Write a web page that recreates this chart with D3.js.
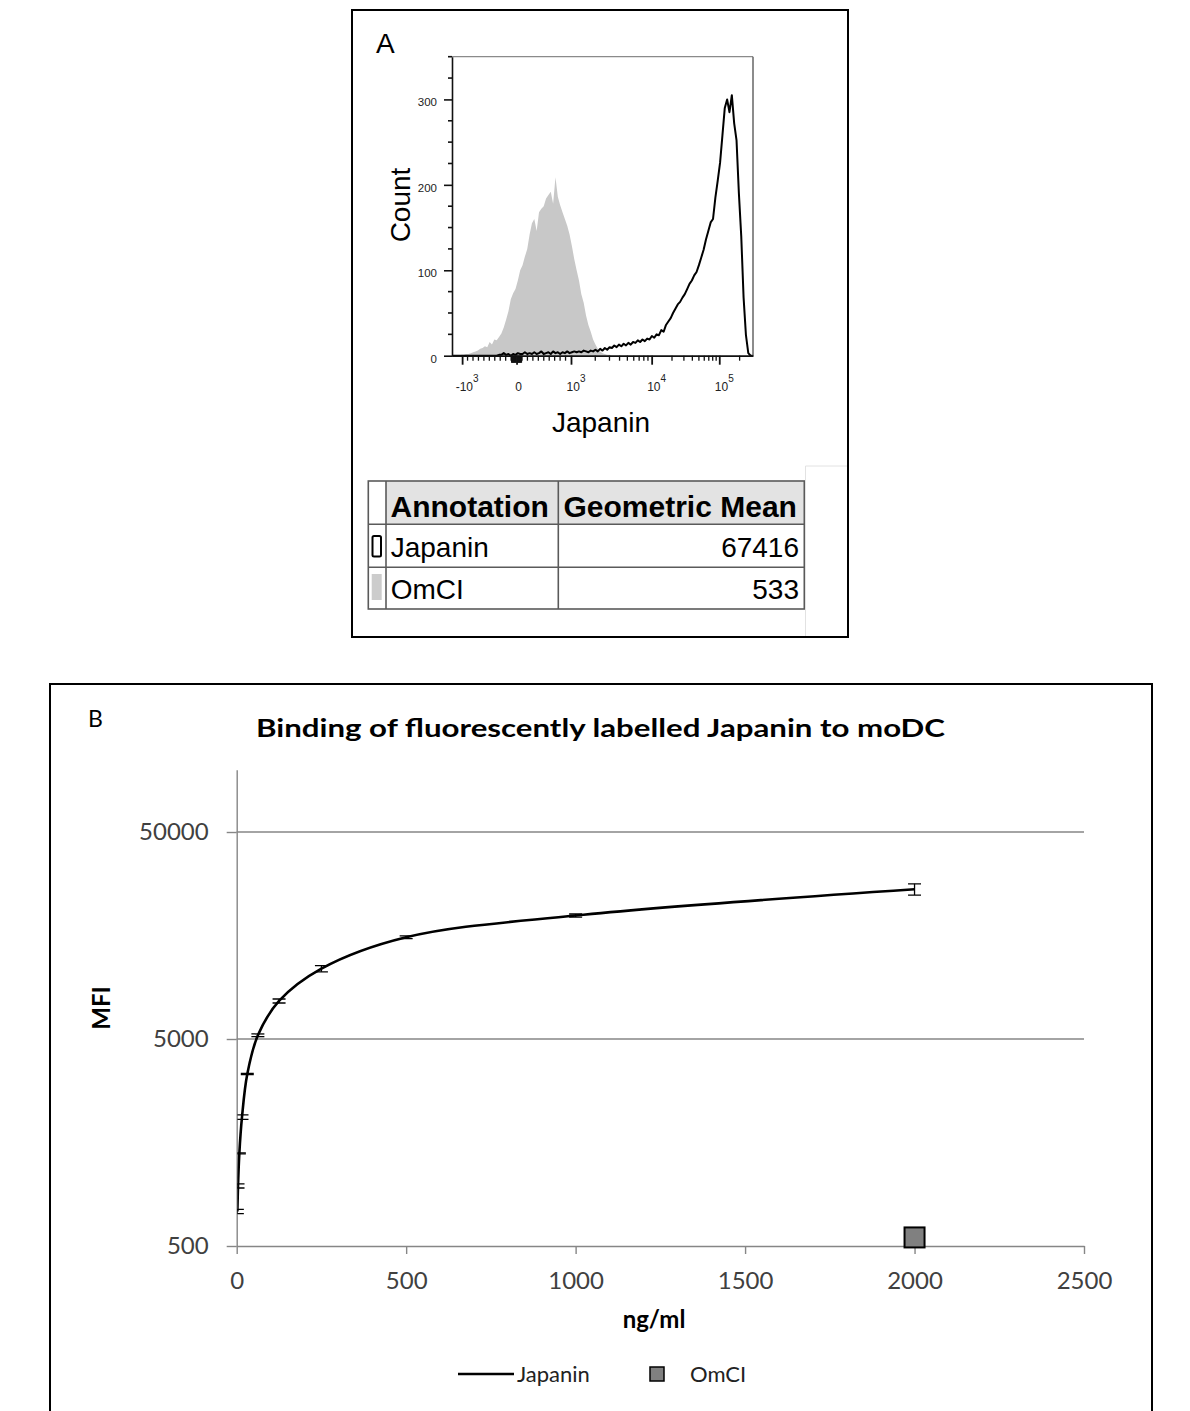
<!DOCTYPE html>
<html><head><meta charset="utf-8">
<script src="https://cdn.jsdelivr.net/npm/d3@7"></script>
<style>body{margin:0;background:#fff} svg{display:block}</style>
</head><body>
<svg id="c" width="1190" height="1411"></svg>
<script>
// ===== Panel A data (flow histogram, counts per display channel, 0..256 step 2) =====
const histChannels = d3.range(0, 257, 2);
const japaninCounts = [
 0,0,0,0,0,0,0,0,0,0,0,0,0,0,0,0,0,0,0,0,1,
 1,3,1,2,0,2,1,3,2,2,4,2,3,2,4,2,3,5,2,3,4,2,5,3,4,2,4,3,5,3,4,5,4,5,4,6,5,4,6,5,7,5,8,6,9,7,10,9,12,10,13,11,14,12,15,13,16,15,18,16,19,17,20,19,23,21,25,24,30,28,36,40,44,50,55,60,63,68,72,78,84,88,94,98,106,115,124,136,146,156,160,185,205,226,258,290,300,285,305,272,252,190,140,68,24,3,0,0
];
const omciCounts = [
 0,0,0,0,1,1,2,2,3,4,5,6,8,9,11,10,16,13,19,18,22,26,33,42,52,66,73,78,88,100,106,116,125,142,155,160,146,168,172,175,184,188,192,178,209,186,176,168,160,152,142,128,113,100,88,72,62,47,36,28,19,13,8,5,3,2,1,1,0,
 0,0,0,0,0,0,0,0,0,0,0,0,0,0,0,0,0,0,0,0,0,0,0,0,0,0,0,0,0,0,0,0,0,0,0,0,0,0,0,0,0,0,0,0,0,0,0,0,0,0,0,0,0,0,0,0,0,0,0,0
];
const countTicks = [0, 100, 200, 300];
const countMinorTicks = [25,50,75,125,150,175,225,250,275,325,350];
const fluorMajor = [-1000, 0, 1000, 10000, 100000];
const fluorMajorBase = ["-10", "0", "10", "10", "10"];
const fluorMajorExp = ["3", "", "3", "4", "5"];
const fluorMinor = [-900,-800,-700,-600,-500,-400,-300,-200,-100,
  -90,-80,-70,-60,-50,-40,-30,-20,-10,10,20,30,40,50,60,70,80,90,
  100,200,300,400,500,600,700,800,900,
  2000,3000,4000,5000,6000,7000,8000,9000,
  20000,30000,40000,50000,60000,70000,80000,90000,200000];
const tableHeader = ["Annotation", "Geometric Mean"];
const tableNames = ["Japanin", "OmCI"];
const tableMeans = ["67416", "533"];

// ===== Panel B data =====
const conc = [1.95, 3.9, 7.8, 15.6, 31.25, 62.5, 125, 250, 500, 1000, 2000];
const japaninMFI = [734, 975, 1402, 2096, 3388, 5211, 7632, 10930, 15500, 19750, 26450];
const japaninErr = [18, 22, 8, 52, 20, 78, 170, 370, 230, 340, 1650];
const omciConc = [2000];
const omciMFI = [550];
const xTicksB = [0, 500, 1000, 1500, 2000, 2500];
const yTicksB = [500, 5000, 50000];

const svg = d3.select("#c");
const ARIAL = "'Liberation Sans', Arial, sans-serif";
const CAL = "Lato, 'Open Sans', sans-serif";

// ---------- Panel A ----------
svg.append("rect").attr("x",352).attr("y",10).attr("width",496).attr("height",627)
  .attr("fill","none").attr("stroke","#000").attr("stroke-width",2);
svg.append("text").attr("x",376).attr("y",53).attr("font-family",ARIAL).attr("font-size",28).text("A");

const xA = d3.scaleLinear().domain([0,256]).range([452,753]);
const yA = d3.scaleLinear().domain([0,350]).range([355.7,56.7]);
// biexponential display transform: fluorescence -> channel
function biex(v){
  if (v <= 1000) return 54.9 + 46.3 * v / 1000;
  if (v <= 10000) return 101.2 + 68.6 * Math.log10(v / 1000);
  return 169.8 + 57.5 * Math.log10(v / 10000);
}

const gA = svg.append("g");
gA.append("path").datum(omciCounts)
  .attr("d", d3.area().x((d,i)=>xA(histChannels[i])).y0(yA(0)).y1(d=>yA(d)))
  .attr("fill","#c8c8c8");
gA.append("path").datum(japaninCounts)
  .attr("d", d3.line().x((d,i)=>xA(histChannels[i])).y(d=>yA(d)))
  .attr("fill","none").attr("stroke","#000").attr("stroke-width",2).attr("stroke-linejoin","round");

// frame top/right
gA.append("line").attr("x1",452).attr("x2",753).attr("y1",yA(350)).attr("y2",yA(350)).attr("stroke","#8a8a8a").attr("stroke-width",1.2);
gA.append("line").attr("x1",753).attr("x2",753).attr("y1",yA(350)).attr("y2",yA(0)).attr("stroke","#666").attr("stroke-width",1.5);

// y axis
const yAxA = gA.append("g").attr("transform","translate(452,0)")
  .call(d3.axisLeft(yA).tickValues(countTicks).tickSize(8).tickSizeOuter(0).tickPadding(7));
yAxA.selectAll("text").attr("font-family",ARIAL).attr("font-size",11.5).attr("fill","#222").attr("dy","0.55em");
yAxA.append("g").selectAll("line").data(countMinorTicks).join("line")
  .attr("x1",-4).attr("x2",0).attr("y1",d=>yA(d)).attr("y2",d=>yA(d)).attr("stroke","#222").attr("stroke-width",1.2);
yAxA.selectAll("path,line").attr("stroke","#111").attr("stroke-width",1.6);

// x axis
const xAxA = gA.append("g").attr("transform",`translate(0,${yA(0)})`)
  .call(d3.axisBottom(xA).tickValues(fluorMajor.map(biex)).tickSize(9).tickSizeOuter(0).tickFormat(()=>""));
xAxA.selectAll("path,line").attr("stroke","#111").attr("stroke-width",1.8);
xAxA.append("g").selectAll("line").data(fluorMinor).join("line")
  .attr("x1",d=>xA(biex(d))).attr("x2",d=>xA(biex(d))).attr("y1",0).attr("y2",d=>Math.abs(d)<100?7:5)
  .attr("stroke","#111").attr("stroke-width",1.3);
fluorMajor.forEach((v,i)=>{
  const t = xAxA.append("text").attr("x", xA(biex(v)) + (fluorMajorExp[i] ? 5 : 2)).attr("y", 35)
    .attr("text-anchor","middle").attr("font-family",ARIAL).attr("font-size",12).attr("fill","#222");
  t.append("tspan").text(fluorMajorBase[i]);
  if (fluorMajorExp[i]) t.append("tspan").attr("font-size",10).attr("dy",-9).text(fluorMajorExp[i]);
});

svg.append("text").attr("transform","translate(410,205) rotate(-90)").attr("text-anchor","middle")
  .attr("font-family",ARIAL).attr("font-size",28).text("Count");
svg.append("text").attr("x",601).attr("y",432).attr("text-anchor","middle")
  .attr("font-family",ARIAL).attr("font-size",28).text("Japanin");

// table
const tb = svg.append("g");
const colX = [368.3, 386, 558.3, 804.3];
const rowY = [481, 524.3, 567.3, 609];
tb.append("rect").attr("x",colX[1]).attr("y",rowY[0]).attr("width",colX[3]-colX[1]).attr("height",rowY[1]-rowY[0]).attr("fill","#e3e3e3");
tb.append("rect").attr("x",colX[0]).attr("y",rowY[0]).attr("width",colX[3]-colX[0]).attr("height",rowY[3]-rowY[0])
  .attr("fill","none").attr("stroke","#5a5a5a").attr("stroke-width",1.6);
[colX[1],colX[2]].forEach(x=>tb.append("line").attr("x1",x).attr("x2",x).attr("y1",rowY[0]).attr("y2",rowY[3]).attr("stroke","#5a5a5a").attr("stroke-width",1.6));
[rowY[1],rowY[2]].forEach(y=>tb.append("line").attr("x1",colX[0]).attr("x2",colX[3]).attr("y1",y).attr("y2",y).attr("stroke","#5a5a5a").attr("stroke-width",1.6));
tb.append("text").attr("x",390.5).attr("y",516.5).attr("font-family",ARIAL).attr("font-weight","bold").attr("font-size",30).text(tableHeader[0]);
tb.append("text").attr("x",563.5).attr("y",516.5).attr("font-family",ARIAL).attr("font-weight","bold").attr("font-size",30).text(tableHeader[1]);
tableNames.forEach((n,i)=>{
  const by = [556.5, 598.5][i];
  tb.append("text").attr("x",390.7).attr("y",by).attr("font-family",ARIAL).attr("font-size",28).text(n);
  tb.append("text").attr("x",799).attr("y",by).attr("text-anchor","end").attr("font-family",ARIAL).attr("font-size",28).text(tableMeans[i]);
});
tb.append("rect").attr("x",372.5).attr("y",536).attr("width",8.5).attr("height",20.5).attr("rx",1.5)
  .attr("fill","#fff").attr("stroke","#000").attr("stroke-width",2);
tb.append("rect").attr("x",371.7).attr("y",574).attr("width",10).attr("height",26).attr("fill","#cccccc");
svg.append("line").attr("x1",805.5).attr("x2",805.5).attr("y1",466).attr("y2",636).attr("stroke","#e2e2e2").attr("stroke-width",1);
svg.append("line").attr("x1",805.5).attr("x2",847).attr("y1",466).attr("y2",466).attr("stroke","#e2e2e2").attr("stroke-width",1);

// ---------- Panel B ----------
svg.append("rect").attr("x",50).attr("y",684).attr("width",1102).attr("height",800)
  .attr("fill","none").attr("stroke","#000").attr("stroke-width",2);
svg.append("text").attr("x",88).attr("y",727).attr("font-family",CAL).attr("font-size",23).text("B");
svg.append("text").attr("x",600.5).attr("y",737).attr("text-anchor","middle")
  .attr("font-family",CAL).attr("font-weight","bold").attr("font-size",24)
  .attr("textLength",689).attr("lengthAdjust","spacingAndGlyphs")
  .text("Binding of fluorescently labelled Japanin to moDC");

const xB = d3.scaleLinear().domain([0,2500]).range([236.7,1084]);
const yB = d3.scaleLog().domain([500,100000]).range([1246,769.7]);
const gB = svg.append("g");
const GRID = "#868686";

// gridlines
gB.selectAll("line.grid").data(yTicksB.slice(1)).join("line").attr("class","grid")
  .attr("x1",xB(0)).attr("x2",xB(2500)).attr("y1",d=>yB(d)).attr("y2",d=>yB(d))
  .attr("stroke",GRID).attr("stroke-width",1.4);

const yAxB = gB.append("g").attr("transform",`translate(${xB(0)},0)`)
  .call(d3.axisLeft(yB).tickValues(yTicksB).tickSize(10).tickSizeOuter(0).tickPadding(18).tickFormat(d3.format("d")));
const xAxB = gB.append("g").attr("transform",`translate(0,${yB(500)})`)
  .call(d3.axisBottom(xB).tickValues(xTicksB).tickSize(8).tickSizeOuter(0).tickPadding(18).tickFormat(d3.format("d")));
[yAxB,xAxB].forEach(a=>{
  a.selectAll("path,line").attr("stroke",GRID).attr("stroke-width",1.4);
  a.selectAll("text").attr("font-family",CAL).attr("font-size",24).attr("fill","#404040");
});

// clip for plot area
svg.append("clipPath").attr("id","plotclip").append("rect")
  .attr("x",xB(0)+0.7).attr("y",yB(100000)).attr("width",xB(2500)-xB(0)).attr("height",yB(500)-yB(100000));

const pts = conc.map((c,i)=>({c, v:japaninMFI[i], e:japaninErr[i]}));
const plot = gB.append("g").attr("clip-path","url(#plotclip)");
plot.append("path").datum(pts)
  .attr("d", d3.line().x(d=>xB(d.c)).y(d=>yB(d.v)).curve(d3.curveCatmullRom.alpha(0.5)))
  .attr("fill","none").attr("stroke","#000").attr("stroke-width",2.6);
const eb = plot.selectAll("g.eb").data(pts).join("g").attr("class","eb");
eb.append("line").attr("x1",d=>xB(d.c)).attr("x2",d=>xB(d.c)).attr("y1",d=>yB(d.v-d.e)).attr("y2",d=>yB(d.v+d.e))
  .attr("stroke","#000").attr("stroke-width",1.3);
eb.append("line").attr("x1",d=>xB(d.c)-6.5).attr("x2",d=>xB(d.c)+6.5).attr("y1",d=>yB(d.v-d.e)).attr("y2",d=>yB(d.v-d.e))
  .attr("stroke","#000").attr("stroke-width",1.3);
eb.append("line").attr("x1",d=>xB(d.c)-6.5).attr("x2",d=>xB(d.c)+6.5).attr("y1",d=>yB(d.v+d.e)).attr("y2",d=>yB(d.v+d.e))
  .attr("stroke","#000").attr("stroke-width",1.3);

gB.selectAll("rect.omci").data(omciConc).join("rect").attr("class","omci")
  .attr("x",(d)=>xB(d)-10).attr("y",(d,i)=>yB(omciMFI[i])-10).attr("width",20).attr("height",20)
  .attr("fill","#808080").attr("stroke","#000").attr("stroke-width",2);

svg.append("text").attr("transform","translate(110,1008) rotate(-90)").attr("text-anchor","middle")
  .attr("font-family",CAL).attr("font-weight","bold").attr("font-size",24).text("MFI");
svg.append("text").attr("x",654).attr("y",1328).attr("text-anchor","middle")
  .attr("font-family",CAL).attr("font-weight","bold").attr("font-size",24).text("ng/ml");

// legend
const lg = svg.append("g").attr("font-family",CAL).attr("font-size",22).attr("fill","#222");
lg.append("line").attr("x1",458).attr("x2",514).attr("y1",1374).attr("y2",1374).attr("stroke","#000").attr("stroke-width",2.4);
lg.append("text").attr("x",517).attr("y",1382).text("Japanin");
lg.append("rect").attr("x",650).attr("y",1367).attr("width",14).attr("height",14).attr("fill","#808080").attr("stroke","#000").attr("stroke-width",1.5);
lg.append("text").attr("x",690).attr("y",1382).text("OmCI");
</script>
</body></html>
